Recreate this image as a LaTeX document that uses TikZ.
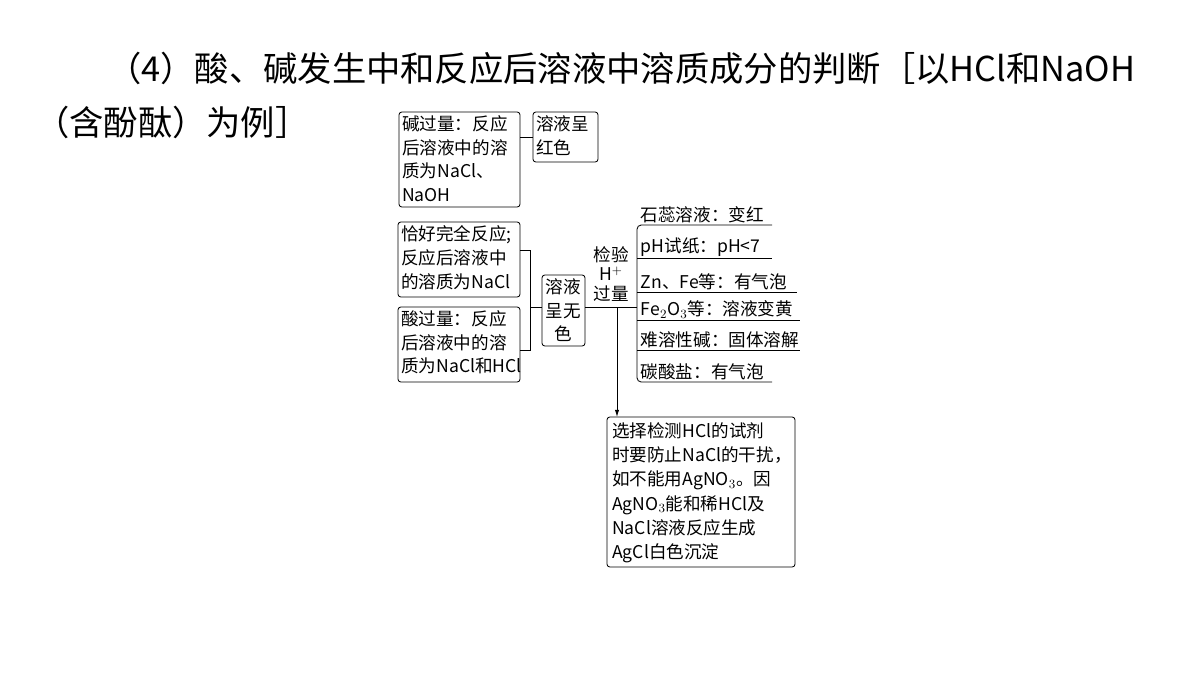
\documentclass[tikz,border=0pt]{standalone}
\usepackage{fontspec}
\setmainfont{Noto Sans CJK SC}
\usetikzlibrary{positioning}
\usetikzlibrary{arrows.meta}
\tikzset{
  box/.style={draw,rounded corners=2pt,align=left,inner sep=2pt,font=\fontsize{12.5}{17}\selectfont},
  item/.style={anchor=south west,inner sep=1pt,font=\fontsize{12.5}{15}\selectfont}
}
\begin{document}
\begin{tikzpicture}[x=0.025cm,y=-0.025cm,line width=0.6pt]
	\useasboundingbox (0,0) rectangle (1200,672);
	\node[anchor=west,font=\fontsize{24.4}{28}\selectfont] (title) at (102,68) {（4）酸、碱发生中和反应后溶液中溶质成分的判断［以HCl和NaOH};
	\node[anchor=west,font=\fontsize{24.4}{28}\selectfont] (title2) at (30,122) {（含酚酞）为例］};
	
	\draw[rounded corners=2pt] (399,112) rectangle (520,207);
	\node[box,draw=none,anchor=north west] (base) at (399,112) {碱过量：反应\\后溶液中的溶\\质为NaCl、\\NaOH};
	\draw[rounded corners=2pt] (533,112) rectangle (598,162);
	\node[box,draw=none,anchor=north west] (red) at (533,112) {溶液呈\\红色};
	\draw (520,137) -- (533,137);
	
	\draw[rounded corners=2pt] (398,222) rectangle (520,297);
	\node[box,draw=none,anchor=north west] (exact) at (398,222) {恰好完全反应;\\反应后溶液中\\的溶质为NaCl};
	\draw[rounded corners=2pt] (398,307) rectangle (520,382);
	\node[box,draw=none,anchor=north west] (acid) at (398,307) {酸过量：反应\\后溶液中的溶\\质为NaCl和HCl};
	\draw[rounded corners=2pt] (542,275) rectangle (585,346);
	\node[box,draw=none,align=center,anchor=north] (clear) at (563.5,275) {溶液\\呈无\\色};
	\draw (520,250) -- (530,250) -- (530,350) -- (520,350);
	\draw (530,307) -- (542,307);
	
	\node[align=center,inner sep=0pt,font=\fontsize{12.5}{14}\selectfont] (check) at (611,274) {检验\\H$^{+}$\\过量};
	\draw (585,307) -- (637,307);
	\draw[rounded corners=3pt] (772,225) -- (637,225) -- (637,382) -- (772,382);
	\foreach \y/\r in {258/772,292/797,320/800,350/800} \draw (637,\y) -- (\r,\y);
	\node[item] (litmus) at (639,225) {石蕊溶液：变红};
	\node[item] (ph) at (639,258) {pH试纸：pH<7};
	\node[item] (zn) at (639,292) {Zn、Fe等：有气泡};
	\node[item] (fe) at (639,320) {Fe$_2$O$_3$等：溶液变黄};
	\node[item] (oh) at (639,350) {难溶性碱：固体溶解};
	\node[item] (co) at (639,382) {碳酸盐：有气泡};
	
	\draw[rounded corners=2pt] (607,417) rectangle (795,567);
	\node[box,draw=none,anchor=north west,font=\fontsize{12.5}{17.3}\selectfont] (note) at (609,419) {选择检测HCl的试剂\\时要防止NaCl的干扰，\\如不能用AgNO$_3$。因\\AgNO$_3$能和稀HCl及\\NaCl溶液反应生成\\AgCl白色沉淀};
	\draw[-{Latex[length=5pt,width=3pt]}] (617,307) -- (617,417);
\end{tikzpicture}
\end{document}
